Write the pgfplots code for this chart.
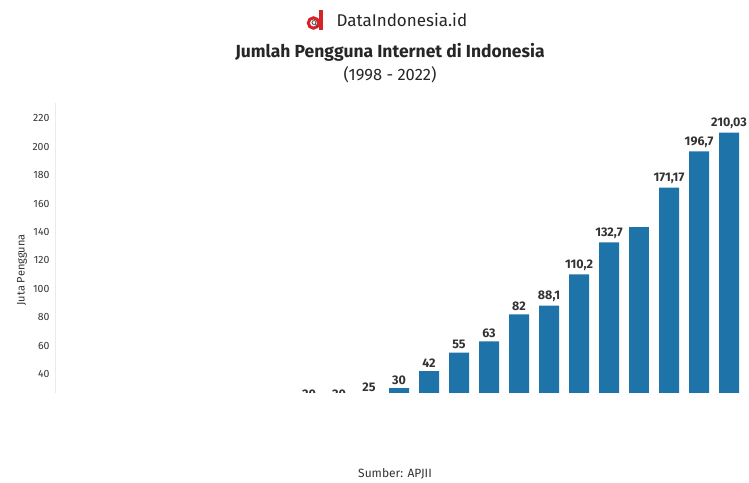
\documentclass[border=0pt]{standalone}
\usepackage{pgfplots}
\pgfplotsset{compat=1.18}
\usepackage{fontspec}
\setmainfont{Fira Sans}
\definecolor{barblue}{RGB}{30,115,168}
\definecolor{lbl}{RGB}{51,51,51}
\definecolor{logored}{RGB}{215,35,40}
\begin{document}
\begin{tikzpicture}[x=1pt,y=1pt]
\useasboundingbox (0,0) rectangle (749,482);
\begin{axis}[
  at={(55pt,51.2pt)}, anchor=south west,
  scale only axis,
  x=30pt, y=1.42pt,
  xmin=-0.467, xmax=22.53,
  ymin=0, ymax=231,
  axis x line=none,
  axis y line*=left,
  y axis line style={draw=black!8, line width=0.8pt},
  ytick={0,20,...,220},
  major tick length=0pt,
  yticklabel style={font=\fontsize{10.5}{12}\selectfont, text=lbl, xshift=-2pt},
  /pgf/number format/assume math mode=true,
  ybar, bar width=20pt, bar shift=0pt,
  clip=false,
  nodes near coords,
  point meta=explicit symbolic,
  every node near coord/.append style={font=\bfseries\fontsize{12.5}{14}\selectfont, text=lbl, anchor=south, yshift=0pt},
]
\addplot[fill=barblue, draw=none] coordinates {
(0,0.5) [0,5]
(1,1) [1]
(2,1.9) [1,9]
(3,4.2) [4,2]
(4,4.5) [4,5]
(5,8) [8]
(6,11.2) [11,2]
(7,16) [16]
(8,20) [20]
(9,20) [20]
(10,25) [25]
(11,30) [30]
(12,42) [42]
(13,55) [55]
(14,63) [63]
(15,82) [82]
(16,88.1) [88,1]
(17,110.2) [110,2]
(18,132.7) [132,7]
(20,171.17) [171,17]
(21,196.7) [196,7]
(22,210.03) [210,03]
};
\addplot[fill=barblue, draw=none, nodes near coords=\empty] coordinates {
(19,143.26) []
};
\end{axis}
% lower part of the chart is covered in the reference
\fill[white] (0,0) rectangle (749,89);
\node[font=\fontsize{12}{14}\selectfont, text=lbl] at (395,8) {Sumber: APJII};
% header
\fill[logored] (319,452) rectangle (322.5,472);
\draw[logored, line width=3pt] (313.5,459) circle (5.2pt);
\draw[black!70, line width=0.8pt] (314,459.5) circle (2pt);
\draw[black!70, line width=0.9pt] (315.5,457.5) -- (318,455);
\node[font=\fontsize{17}{20}\selectfont, text=black!85, anchor=west] at (333,462) {DataIndonesia.id};
\node[font=\bfseries\fontsize{17.5}{20}\selectfont, text=black!85] at (390,430) {Jumlah Pengguna Internet di Indonesia};
\node[font=\fontsize{16.5}{19}\selectfont, text=black!85] at (390,407) {(1998 - 2022)};
\node[font=\fontsize{11}{13}\selectfont, text=lbl, rotate=90] at (22,212) {Juta Pengguna};
\end{tikzpicture}
\end{document}
